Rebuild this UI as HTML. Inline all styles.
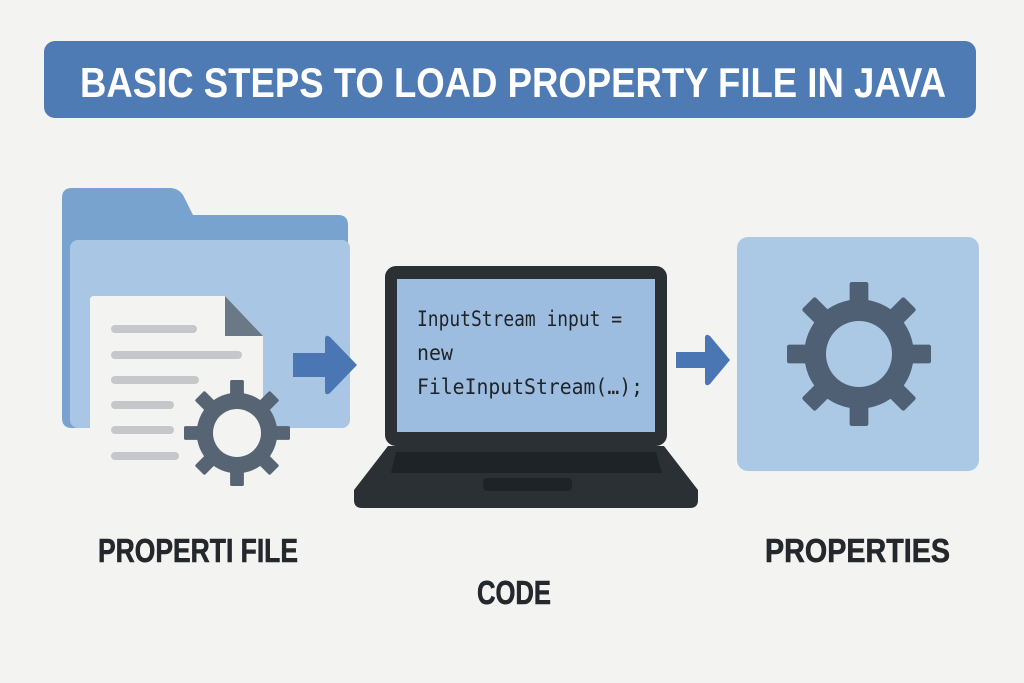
<!DOCTYPE html>
<html><head><meta charset="utf-8"><style>
html,body{margin:0;padding:0;background:#f3f3f1;}
svg{display:block;}
</style></head><body>
<svg width="1024" height="683" viewBox="0 0 1024 683" xmlns="http://www.w3.org/2000/svg">
<defs>
<g id="gear">
  <rect x="-13" y="-100" width="26" height="200" rx="3"/>
  <rect x="-13" y="-100" width="26" height="200" rx="3" transform="rotate(45)"/>
  <rect x="-13" y="-100" width="26" height="200" rx="3" transform="rotate(90)"/>
  <rect x="-13" y="-100" width="26" height="200" rx="3" transform="rotate(135)"/>
  <circle r="76"/>
</g>
</defs>
<rect width="1024" height="683" fill="#f3f3f1"/>
<rect x="44" y="41" width="932" height="77" rx="11" fill="#4f7bb5"/>
<text x="513" y="97" text-anchor="middle" font-family="Liberation Sans, sans-serif" font-weight="bold" font-size="42" fill="#ffffff" textLength="866" lengthAdjust="spacingAndGlyphs">BASIC STEPS TO LOAD PROPERTY FILE IN JAVA</text>

<path d="M62,198 Q62,188 72,188 L170,188 Q178,188 183,195 L193,215 L338,215 Q348,215 348,225 L348,420 Q348,428 340,428 L72,428 Q62,428 62,418 Z" fill="#78a3cf"/>
<rect x="70" y="240" width="280" height="188" rx="8" fill="#a9c7e5"/>
<path d="M90,300 Q90,296 94,296 L225,296 L263,336 L263,470 L90,470 Z" fill="#f3f3f1"/>
<path d="M225,296 L263,336 L225,336 Z" fill="#6b7886"/>
<g stroke="#c5c7ca" stroke-width="8" stroke-linecap="round">
<line x1="115" y1="329" x2="193" y2="329"/>
<line x1="115" y1="355" x2="238" y2="355"/>
<line x1="115" y1="380" x2="195" y2="380"/>
<line x1="115" y1="405" x2="170" y2="405"/>
<line x1="115" y1="430" x2="170" y2="430"/>
<line x1="115" y1="456" x2="175" y2="456"/>
</g>
<g transform="translate(237,433) scale(0.53)" fill="#566474"><use href="#gear"/></g>
<circle cx="237" cy="433" r="24" fill="#f3f3f1"/>

<path d="M293,353 L325,353 L325,338 Q326,334 330,337 L357,365 L330,393 Q326,396 325,392 L325,377 L293,377 Z" fill="#4a77b4"/>
<path d="M676,352 L705,352 L705,337 Q706,333 710,336 L730,360 L710,384 Q706,387 705,383 L705,368 L676,368 Z" fill="#4a77b4"/>

<rect x="385" y="266" width="282" height="180" rx="11" fill="#2b3034"/>
<rect x="397" y="279" width="258" height="153" fill="#9dbde0"/>
<text font-family="DejaVu Sans Mono, monospace" font-size="21" fill="#1f2428">
<tspan x="417" y="326" textLength="205" lengthAdjust="spacingAndGlyphs">InputStream input =</tspan>
<tspan x="417" y="360" textLength="36" lengthAdjust="spacingAndGlyphs">new</tspan>
<tspan x="417" y="394" textLength="226" lengthAdjust="spacingAndGlyphs">FileInputStream(…);</tspan>
</text>
<path d="M388,446 L664,446 L698,490 L698,500 Q698,508 690,508 L362,508 Q354,508 354,500 L354,490 Z" fill="#2b3034"/>
<path d="M396,452 L656,452 L662,473 L391,473 Z" fill="#1f2326"/>
<rect x="483" y="478" width="89" height="13" rx="4" fill="#1f2326"/>

<rect x="737" y="237" width="242" height="234" rx="11" fill="#abc9e4"/>
<g transform="translate(859,354) scale(0.72)" fill="#4f6074"><use href="#gear"/></g>
<circle cx="859" cy="354" r="33" fill="#abc9e4"/>

<g font-family="Liberation Sans, sans-serif" font-weight="bold" font-size="33" fill="#24282c" stroke="#24282c" stroke-width="0.6">
<text x="98" y="562" textLength="200" lengthAdjust="spacingAndGlyphs">PROPERTI FILE</text>
<text x="477" y="604" textLength="74" lengthAdjust="spacingAndGlyphs">CODE</text>
<text x="765" y="562" textLength="185" lengthAdjust="spacingAndGlyphs">PROPERTIES</text>
</g>
</svg>
</body></html>
